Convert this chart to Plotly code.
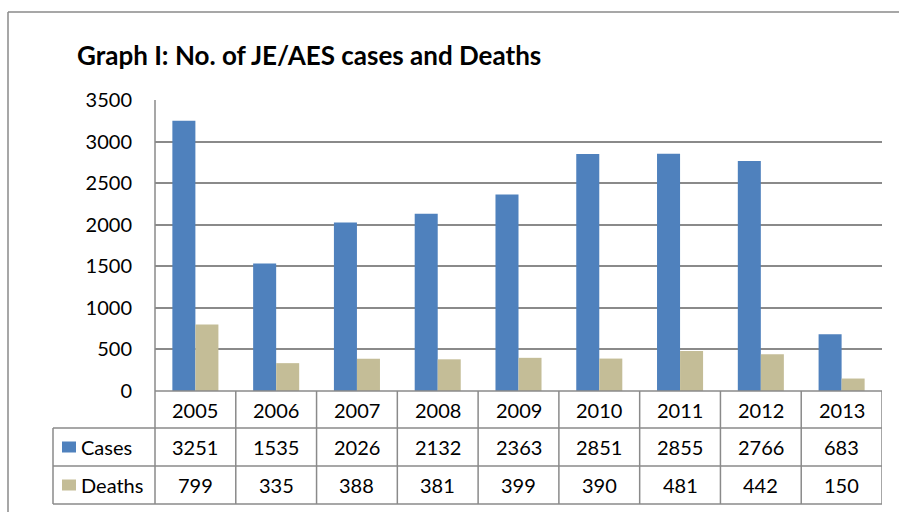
import plotly.graph_objects as go

years = ["2005", "2006", "2007", "2008", "2009", "2010", "2011", "2012", "2013"]
cases = [3251, 1535, 2026, 2132, 2363, 2851, 2855, 2766, 683]
deaths = [799, 335, 388, 381, 399, 390, 481, 442, 150]
series_names = ["Cases", "Deaths"]
y_ticks = [0, 500, 1000, 1500, 2000, 2500, 3000, 3500]
title_text = "Graph I: No. of JE/AES cases and Deaths"

W, H = 899, 512
BLUE = "#4F81BD"
TAN = "#C4BD97"
GRID = "#8a8a8a"
FONT = "Lato"

def px(x):
    return x / W

def py(y):
    return 1 - y / H

PL, PR, PT, PB = 155, 882, 100, 391
ROW1, ROW2, ROW3 = 428, 466, 504
TL = 53

fig = go.Figure()
fig.add_trace(go.Bar(x=years, y=cases, name=series_names[0], marker=dict(color=BLUE, line=dict(width=0))))
fig.add_trace(go.Bar(x=years, y=deaths, name=series_names[1], marker=dict(color=TAN, line=dict(width=0))))

shapes = []
line = dict(color=GRID, width=1.5)
# outer chart border
shapes.append(dict(type="line", xref="paper", yref="paper", x0=px(8), y0=py(12), x1=1.0, y1=py(12), line=dict(color=GRID, width=1.5)))
shapes.append(dict(type="line", xref="paper", yref="paper", x0=px(8), y0=py(12), x1=px(8), y1=0, line=dict(color=GRID, width=1.5)))
# table horizontal lines
shapes.append(dict(type="line", xref="paper", yref="paper", x0=px(PL), y0=py(PB), x1=px(PR), y1=py(PB), line=line))
for yy in (ROW1, ROW2, ROW3):
    shapes.append(dict(type="line", xref="paper", yref="paper", x0=px(TL), y0=py(yy), x1=px(PR), y1=py(yy), line=line))
# table vertical lines
shapes.append(dict(type="line", xref="paper", yref="paper", x0=px(TL), y0=py(ROW1), x1=px(TL), y1=py(ROW3), line=line))
shapes.append(dict(type="line", xref="paper", yref="paper", x0=px(PL), y0=py(PT), x1=px(PL), y1=py(ROW3), line=line))
for i in range(1, len(years) + 1):
    shapes.append(dict(type="line", xref="x", yref="paper", x0=i - 0.5, y0=py(PB), x1=i - 0.5, y1=py(ROW3), line=line))
# legend keys
for col, yc in ((BLUE, (ROW1 + ROW2) / 2), (TAN, (ROW2 + ROW3) / 2)):
    shapes.append(dict(type="rect", xref="paper", yref="paper", x0=px(62), x1=px(76), y0=py(yc - 5.5), y1=py(yc + 5.5),
                       fillcolor=col, line=dict(width=0)))

annotations = []
tf = dict(family=FONT, size=20, color="#000000")
hdr_y = (PB + ROW1) / 2
r1_y = (ROW1 + ROW2) / 2
r2_y = (ROW2 + ROW3) / 2
for i, yr in enumerate(years):
    annotations.append(dict(x=i, y=py(hdr_y), xref="x", yref="paper", text=yr, showarrow=False, font=tf, xanchor="center", yanchor="middle"))
    annotations.append(dict(x=i, y=py(r1_y), xref="x", yref="paper", text=str(cases[i]), showarrow=False, font=tf, xanchor="center", yanchor="middle"))
    annotations.append(dict(x=i, y=py(r2_y), xref="x", yref="paper", text=str(deaths[i]), showarrow=False, font=tf, xanchor="center", yanchor="middle"))
annotations.append(dict(x=px(79), y=py(r1_y), xref="paper", yref="paper", text=series_names[0], showarrow=False, font=tf, xanchor="left", yanchor="middle"))
annotations.append(dict(x=px(79), y=py(r2_y), xref="paper", yref="paper", text=series_names[1], showarrow=False, font=tf, xanchor="left", yanchor="middle"))
annotations.append(dict(x=px(75), y=py(55), xref="paper", yref="paper", text="<b>" + title_text + "</b>", showarrow=False,
                        font=dict(family=FONT, size=26, color="#000000"), xanchor="left", yanchor="middle"))

fig.update_layout(
    width=W, height=H,
    margin=dict(l=0, r=0, t=0, b=0, pad=0, autoexpand=False),
    paper_bgcolor="white", plot_bgcolor="white",
    barmode="group", bargap=0.43, bargroupgap=0,
    showlegend=False,
    shapes=shapes, annotations=annotations,
    xaxis=dict(domain=[px(PL), px(PR)], range=[-0.5, len(years) - 0.5], showticklabels=False, showgrid=False,
               zeroline=False, showline=False, ticks="", type="category", automargin=False),
    yaxis=dict(domain=[py(PB), py(PT)], range=[0, 3500], tickvals=y_ticks, showgrid=True, gridcolor=GRID, gridwidth=1.5,
               zeroline=False, showline=False, ticks="", ticklabelstandoff=22, automargin=False,
               tickfont=dict(family=FONT, size=20, color="#000000")),
)

fig.write_html("out.html", config={"displayModeBar": False}, post_script="document.body.style.margin='0';")
